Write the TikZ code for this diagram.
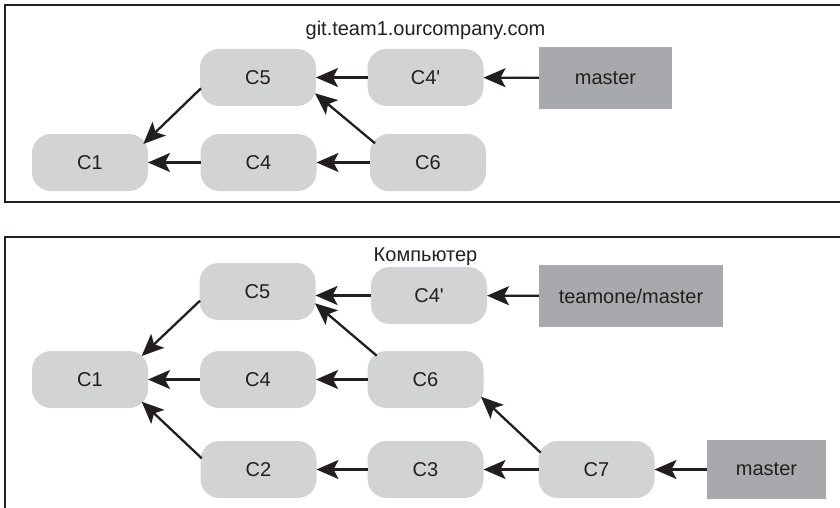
\documentclass[tikz,border=0pt]{standalone}
\usepackage{fontspec}
\setmainfont{Liberation Sans}[Ligatures=TeXOff]
\usetikzlibrary{arrows.meta,calc}
\definecolor{txt}{HTML}{231F20}
\definecolor{commitfill}{HTML}{D1D3D4}
\definecolor{branchfill}{HTML}{A7A9AC}
\definecolor{frame}{HTML}{231F20}
\begin{document}
\begin{tikzpicture}[x=1pt,y=-1pt,
  every node/.style={font=\fontsize{20}{24}\selectfont, text=txt, inner sep=0pt, outer sep=0pt},
  commit/.style={fill=commitfill, rounded corners=19pt, minimum width=116pt, minimum height=57pt},
  branch/.style={fill=branchfill, minimum height=62pt},
  title/.style={anchor=base},
  conn/.style={draw=txt, line width=2.3pt, -{Stealth[length=22pt,width=19pt,inset=5pt]}},
  framebox/.style={draw=frame, line width=2.6pt}
]
\useasboundingbox (0,0) rectangle (840,508);
\fill[white] (0,0) rectangle (840,508);

% ---------- top frame ----------
\draw[framebox] (5,5) rectangle (850,202);
\node[title] (t1) at (425.5,36) {git.team1.ourcompany.com};
\node[commit] (aC5) at (258,77.5) {C5};
\node[commit] (aC4p) at (425.5,77.5) {C4'};
\node[branch, minimum width=133pt] (amaster) at (605.5,78) {master};
\node[commit] (aC1) at (90,162.5) {C1};
\node[commit] (aC4) at (258.5,162.5) {C4};
\node[commit] (aC6) at (428,162.5) {C6};

\draw[conn] (amaster) -- (aC4p);
\draw[conn] (aC4p) -- (aC5);
\draw[conn] (aC4) -- (aC1);
\draw[conn] (aC6) -- (aC4);
\draw[conn] ($(aC5)+(-57,10.8)$) -- ($(aC1)+(53.3,-18.5)$);
\draw[conn] ($(aC6)+(-53,-19.2)$) -- ($(aC5)+(57,15.8)$);

% ---------- bottom frame ----------
\draw[framebox] (5,237) rectangle (850,520);
\node[title] (t2) at (425.5,261) {Компьютер};
\node[commit] (bC5) at (257.5,291.5) {C5};
\node[commit] (bC4p) at (429,295.5) {C4'};
\node[branch, minimum width=184pt] (bteam) at (631,296) {teamone/master};
\node[commit] (bC1) at (90,379.5) {C1};
\node[commit] (bC4) at (258,379.5) {C4};
\node[commit] (bC6) at (425.5,379.5) {C6};
\node[commit] (bC2) at (258.5,469.5) {C2};
\node[commit] (bC3) at (425.5,469.5) {C3};
\node[commit] (bC7) at (596.5,469.5) {C7};
\node[branch, minimum width=119pt, minimum height=59pt] (bmaster) at (766.5,469.5) {master};

\draw[conn] (bteam) -- (bC4p);
\draw[conn] (bC4p.west) -- (bC4p.west -| bC5.east);
\draw[conn] (bC4) -- (bC1);
\draw[conn] (bC6) -- (bC4);
\draw[conn] (bC3) -- (bC2);
\draw[conn] (bC7) -- (bC3);
\draw[conn] (bmaster) -- (bC7);
\draw[conn] ($(bC5)+(-57.5,9.2)$) -- ($(bC1)+(51.7,-23.5)$);
\draw[conn] ($(bC6)+(-48.8,-23.8)$) -- ($(bC5)+(57.5,11.8)$);
\draw[conn] ($(bC2)+(-56.8,-11.2)$) -- ($(bC1)+(51.7,22.2)$);
\draw[conn] ($(bC7)+(-55.8,-16.8)$) -- ($(bC6)+(55.5,17.2)$);
\end{tikzpicture}
\end{document}
